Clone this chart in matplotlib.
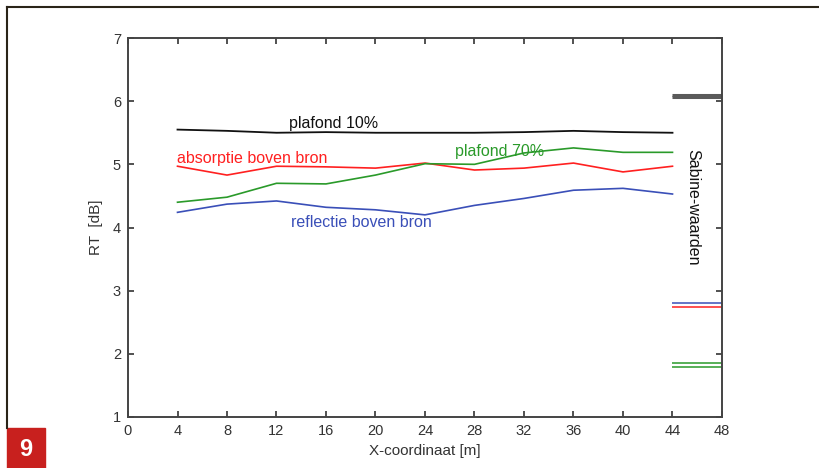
import numpy as np
import matplotlib.pyplot as plt
from matplotlib.lines import Line2D
from matplotlib.patches import Rectangle

plt.rcParams['font.family'] = ['Liberation Sans', 'DejaVu Sans']

# Meetposities langs de x-as
x_pos = [4, 8, 12, 16, 20, 24, 28, 32, 36, 40, 44]

# Nagalmtijden per configuratie
rt_plafond10 = [5.55, 5.53, 5.50, 5.51, 5.50, 5.50, 5.50, 5.51, 5.53, 5.51, 5.50]
rt_absorptie = [4.97, 4.83, 4.97, 4.96, 4.94, 5.02, 4.91, 4.94, 5.02, 4.88, 4.97]
rt_plafond70 = [4.40, 4.48, 4.70, 4.69, 4.83, 5.01, 5.00, 5.18, 5.26, 5.19, 5.19]
rt_reflectie = [4.24, 4.37, 4.42, 4.32, 4.28, 4.20, 4.35, 4.46, 4.59, 4.62, 4.53]

# Sabine-waarden (korte streepjes rechts)
sabine_x = [44, 48]
sabine_plafond10 = [6.10, 6.06]
sabine_absorptie = [2.74]
sabine_reflectie = [2.80]
sabine_plafond70 = [1.85, 1.79]

x_ticks = list(range(0, 49, 4))
y_ticks = [1, 2, 3, 4, 5, 6, 7]

kleur_zwart = '#111111'
kleur_rood = '#ff2020'
kleur_groen = '#2a9a2a'
kleur_blauw = '#3a4fb8'
kleur_grijs = '#5a5a5a'

fig = plt.figure(figsize=(8.2, 4.68), dpi=100)
ax = fig.add_axes([128 / 820, 1 - 417 / 468, (722 - 128) / 820, (417 - 38) / 468])

ax.plot(x_pos, rt_plafond10, color=kleur_zwart, lw=1.3)
ax.plot(x_pos, rt_absorptie, color=kleur_rood, lw=1.2)
ax.plot(x_pos, rt_plafond70, color=kleur_groen, lw=1.2)
ax.plot(x_pos, rt_reflectie, color=kleur_blauw, lw=1.2)

for v in sabine_plafond10:
    ax.plot(sabine_x, [v, v], color=kleur_grijs, lw=2.2, solid_capstyle='butt')
for v in sabine_absorptie:
    ax.plot(sabine_x, [v, v], color=kleur_rood, lw=1.1, solid_capstyle='butt')
for v in sabine_reflectie:
    ax.plot(sabine_x, [v, v], color=kleur_blauw, lw=1.1, solid_capstyle='butt')
for v in sabine_plafond70:
    ax.plot(sabine_x, [v, v], color=kleur_groen, lw=1.1, solid_capstyle='butt')

fs = 11.5
ax.text(13.0, 5.53, 'plafond 10%', color=kleur_zwart, fontsize=fs, va='bottom')
ax.text(4.0, 4.98, 'absorptie boven bron', color=kleur_rood, fontsize=fs, va='bottom')
ax.text(26.4, 5.09, 'plafond 70%', color=kleur_groen, fontsize=fs, va='bottom')
ax.text(13.2, 4.19, 'reflectie boven bron', color=kleur_blauw, fontsize=fs, va='top')
ax.text(45.6, 4.32, 'Sabine-waarden', color=kleur_zwart, fontsize=fs,
        rotation=-90, ha='center', va='center')

ax.set_xlim(0, 48)
ax.set_ylim(1, 7)
ax.set_xticks(x_ticks)
ax.set_yticks(y_ticks)
ax.tick_params(direction='in', length=4, width=1.2, top=True, right=True,
               labelsize=10.5, colors='#333333', pad=5)
for s in ax.spines.values():
    s.set_color('#444444')
    s.set_linewidth(1.4)
ax.set_xlabel('X-coordinaat [m]', fontsize=11, color='#333333', labelpad=4)
ax.set_ylabel('RT  [dB]', fontsize=11, color='#333333', labelpad=7)

# Kader rond de figuur
fig.add_artist(Line2D([7 / 820, 1.0], [1 - 7 / 468, 1 - 7 / 468],
                      transform=fig.transFigure, color='#2a2418', lw=1.5))
fig.add_artist(Line2D([7 / 820, 7 / 820], [1 - 7 / 468, 40 / 468],
                      transform=fig.transFigure, color='#2a2418', lw=1.5))

# Figuurnummer
fig.add_artist(Rectangle((7 / 820, 0), 38 / 820, 40 / 468,
                         transform=fig.transFigure, color='#c8201e'))
fig.text(26 / 820, 18 / 468, '9', color='white', fontsize=17,
         fontweight='bold', ha='center', va='center')

fig.savefig('out.png', dpi=100)
